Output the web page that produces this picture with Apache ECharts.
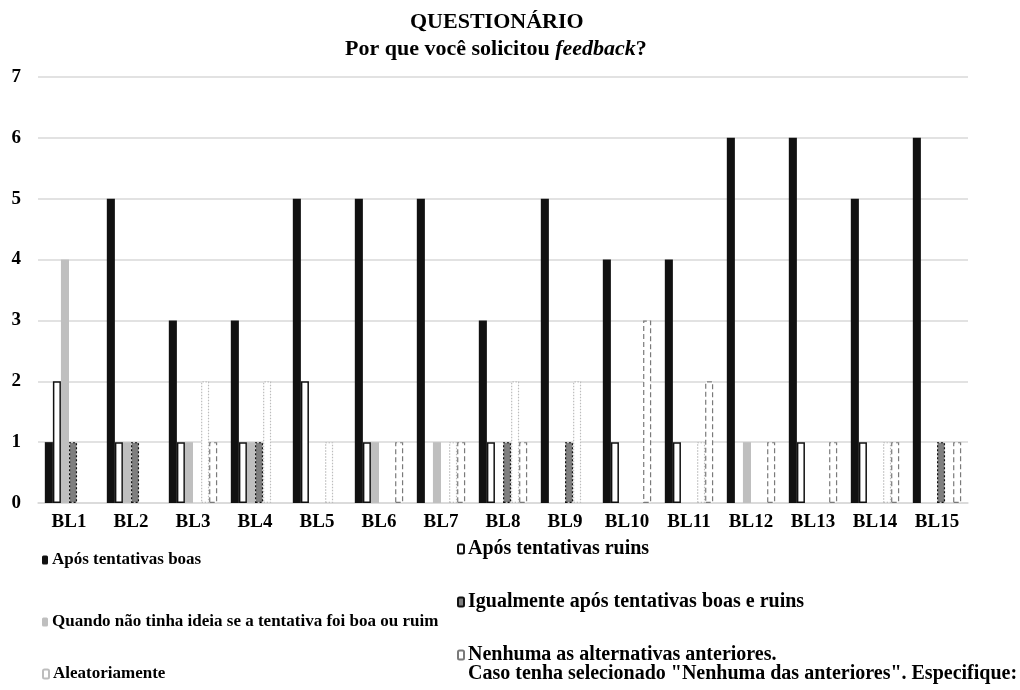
<!DOCTYPE html>
<html>
<head>
<meta charset="utf-8">
<script src="https://cdn.jsdelivr.net/npm/echarts@6/dist/echarts.min.js"></script>
<style>
  html, body { margin: 0; padding: 0; background: #fff; }
  #chart { width: 1020px; height: 690px; }
</style>
</head>
<body>
<div id="chart"></div>
<script>
// Respostas por participante (BL1..BL15)
const categories = ['BL1','BL2','BL3','BL4','BL5','BL6','BL7','BL8','BL9','BL10','BL11','BL12','BL13','BL14','BL15'];
const yTicks = [0, 1, 2, 3, 4, 5, 6, 7];

const aposBoas      = [1, 5, 3, 3, 5, 5, 5, 3, 5, 4, 4, 6, 6, 5, 6];
const aposRuins     = [2, 1, 1, 1, 2, 1, 0, 1, 0, 1, 1, 0, 1, 1, 0];
const semIdeia      = [4, 1, 1, 1, 0, 1, 1, 0, 0, 0, 0, 1, 0, 0, 0];
const igualmente    = [1, 1, 0, 1, 0, 0, 0, 1, 1, 0, 0, 0, 0, 0, 1];
const aleatoriamente= [0, 0, 2, 2, 1, 0, 1, 2, 2, 0, 1, 0, 0, 1, 0];
const nenhuma       = [0, 0, 1, 0, 0, 1, 1, 1, 0, 3, 2, 1, 1, 1, 1];

const serieNames = [
  'Após tentativas boas',
  'Após tentativas ruins',
  'Quando não tinha ideia se a tentativa foi boa ou ruim',
  'Igualmente após tentativas boas e ruins',
  'Aleatoriamente',
  'Nenhuma as alternativas anteriores.'
];
const nenhumaNota = 'Caso tenha selecionado "Nenhuma das anteriores". Especifique:';

const FONT = '"Liberation Serif", "DejaVu Serif", serif';

const styles = [
  { color: '#111111' },
  { color: '#ffffff', borderColor: '#111111', borderWidth: 1.5 },
  { color: '#bfbfbf' },
  { color: '#7f7f7f', borderColor: '#111111', borderWidth: 1.2, borderType: [2, 2] },
  { color: '#ffffff', borderColor: '#bdbdbd', borderWidth: 1.2, borderType: [1.5, 1.5] },
  { color: '#ffffff', borderColor: '#7a7a7a', borderWidth: 1.2, borderType: [5, 3] }
];

const values = [aposBoas, aposRuins, semIdeia, igualmente, aleatoriamente, nenhuma];

const series = values.map((vals, i) => ({
  name: serieNames[i],
  type: 'bar',
  barGap: '0%',
  barCategoryGap: '22%',
  itemStyle: styles[i],
  emphasis: { disabled: true },
  data: vals.map(v => (v === 0 ? '-' : v))
}));

// Legenda em duas colunas, uma entrada por componente
const legendPos = [
  { left: 42, top: 550, size: 17 },
  { left: 457, top: 539, size: 20 },
  { left: 42, top: 612, size: 17 },
  { left: 457, top: 592, size: 20 },
  { left: 42, top: 664, size: 17 },
  { left: 457, top: 645, size: 20 }
];
const legends = serieNames.map((name, i) => ({
  data: [name],
  left: legendPos[i].left,
  top: legendPos[i].top,
  orient: 'vertical',
  itemWidth: 6,
  itemHeight: 9,
  itemGap: 0,
  selectedMode: false,
  padding: 0,
  textStyle: {
    fontFamily: FONT, fontWeight: 'bold', fontSize: legendPos[i].size, color: '#000',
    lineHeight: 20, padding: [0, 0, 0, -1]
  }
}));

const chart = echarts.init(document.getElementById('chart'));
chart.setOption({
  animation: false,
  backgroundColor: '#ffffff',
  title: [
    {
      text: 'QUESTIONÁRIO',
      left: 405,
      top: 4,
      textStyle: { fontFamily: FONT, fontWeight: 'bold', fontSize: 22, color: '#000', lineHeight: 27 }
    },
    {
      text: '{s|Por que você solicitou }{i|feedback}{s|?}',
      left: 340,
      top: 31,
      textStyle: {
        rich: {
          s: { fontFamily: FONT, fontWeight: 'bold', fontSize: 22, color: '#000', lineHeight: 27 },
          i: { fontFamily: FONT, fontWeight: 'bold', fontStyle: 'italic', fontSize: 22, color: '#000', lineHeight: 27 }
        }
      }
    }
  ],
  legend: legends,
  graphic: [
    {
      type: 'text',
      left: 468,
      top: 664,
      style: {
        text: nenhumaNota,
        font: 'bold 20px ' + FONT,
        fill: '#000'
      }
    }
  ],
  grid: { left: 38, right: 52, top: 77, bottom: 187, containLabel: false },
  xAxis: {
    type: 'category',
    data: categories,
    axisLine: { show: true, lineStyle: { color: '#d9d9d9', width: 1.5 } },
    axisTick: { show: false },
    axisLabel: {
      fontFamily: FONT, fontWeight: 'bold', fontSize: 19, color: '#000', margin: 10
    }
  },
  yAxis: {
    type: 'value',
    min: yTicks[0],
    max: yTicks[yTicks.length - 1],
    interval: 1,
    axisLine: { show: false },
    axisTick: { show: false },
    splitLine: { lineStyle: { color: '#d9d9d9', width: 1.5 } },
    axisLabel: {
      fontFamily: FONT, fontWeight: 'bold', fontSize: 19, color: '#000', margin: 17
    }
  },
  series: series
});
</script>
</body>
</html>
